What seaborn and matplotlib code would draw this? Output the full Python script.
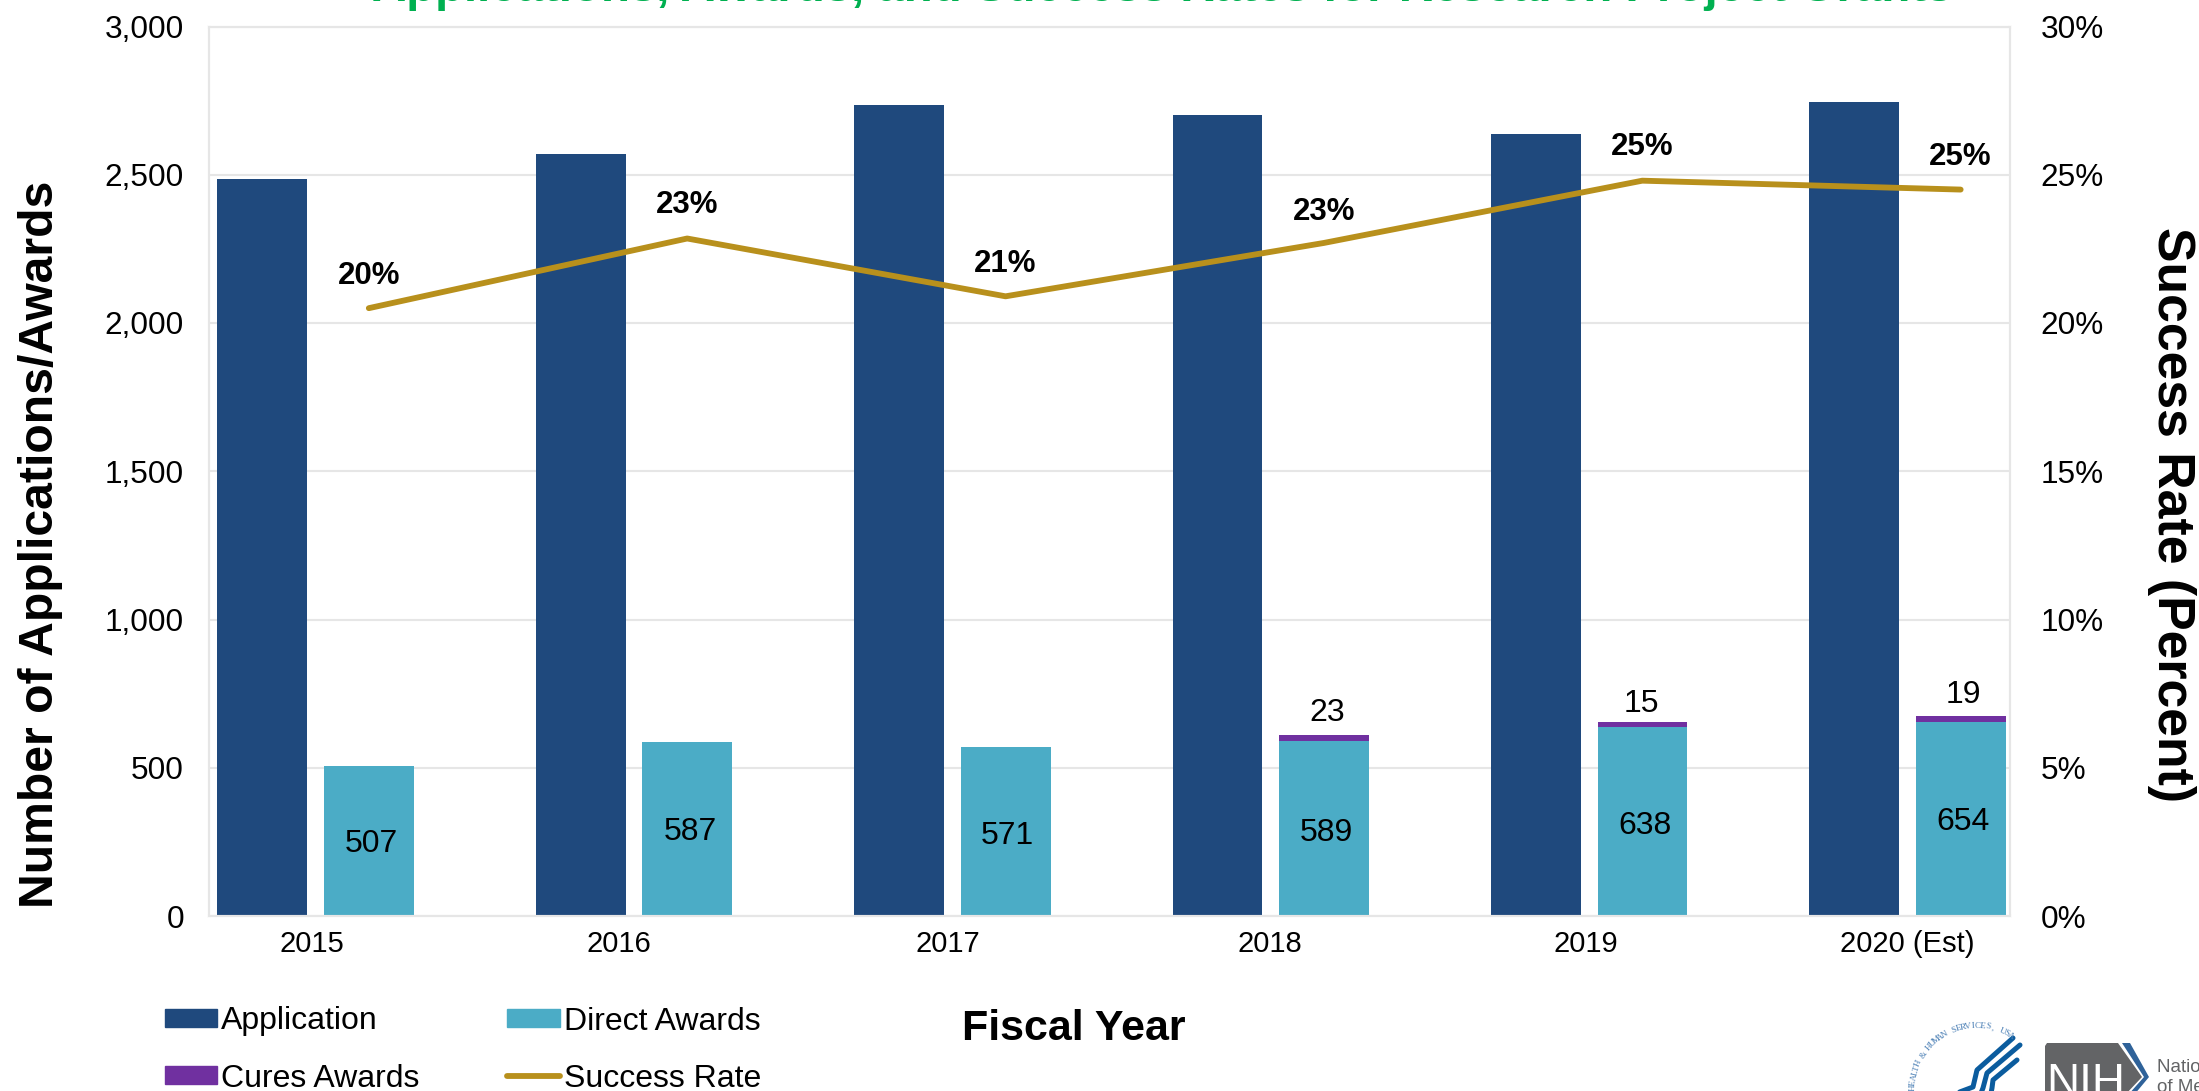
import numpy as np
import pandas as pd
import matplotlib
matplotlib.use('Agg')
import matplotlib.pyplot as plt
import seaborn as sns
from matplotlib.lines import Line2D
from matplotlib.patches import Patch, Polygon

# values
years = ['2015', '2016', '2017', '2018', '2019', '2020 (Est)']
applications = [2484, 2569, 2735, 2702, 2636, 2745]
direct_awards = [507, 587, 571, 589, 638, 654]
cures_awards = [0, 0, 0, 23, 15, 19]
success_rate = [20.5, 22.85, 20.9, 22.7, 24.8, 24.5]
rate_labels = ['20%', '23%', '21%', '23%', '25%', '25%']

NAVY = '#1f497d'
TEAL = '#4bacc6'
PURPLE = '#7030a0'
GOLD = '#b8901c'
GREEN = '#00b050'
GRID = '#e6e6e6'

sns.set_theme(style='white')
plt.rcParams['font.family'] = ['Liberation Sans', 'DejaVu Sans']

W, H = 2199, 1091
fig = plt.figure(figsize=(W / 100, H / 100), dpi=100)
left, right, top, bottom = 209, 2010, 26.5, 916
ax = fig.add_axes([left / W, 1 - bottom / H, (right - left) / W, (bottom - top) / H])

totals = [d + c for d, c in zip(direct_awards, cures_awards)]
series = ['Application'] * 6 + ['Direct Awards'] * 6
bars = pd.DataFrame({'year': years * 2, 'series': series, 'value': applications + direct_awards})
stack = pd.DataFrame({'year': years * 2, 'series': series, 'value': applications + totals})

bar_args = dict(x='year', y='value', hue='series', order=years,
                hue_order=['Application', 'Direct Awards'],
                width=0.67, gap=0.158, legend=False, saturation=1, ax=ax, zorder=2,
                edgecolor='none', linewidth=0)
sns.barplot(data=stack, palette=[NAVY, PURPLE], **bar_args)
sns.barplot(data=bars, palette=[NAVY, TEAL], **bar_args)

ax.set_xlim(-0.335, 5.322)
ax.set_ylim(0, 3000)
ax.set_yticks(range(0, 3001, 500))
ax.set_yticklabels([f'{v:,}' for v in range(0, 3001, 500)])
ax.grid(axis='y', color=GRID, lw=1.5)
ax.set_axisbelow(True)
ax.tick_params(axis='y', length=0, pad=18, labelsize=22.7, labelcolor='black')

tick_nudge = [-0.013, -0.048, -0.013, -0.004, -0.009, 0]
ax.set_xticks(np.arange(6) + tick_nudge)
ax.set_xticklabels(years)
ax.tick_params(axis='x', length=0, pad=10, labelsize=21, labelcolor='black')
ax.set_xlabel('')
ax.set_ylabel('Number of Applications/Awards', fontsize=34.7, fontweight='bold', color='black')
ax.yaxis.set_label_coords(-0.0812, 0.418)

teal_x = np.arange(6) + 0.167

rate_ax = ax.twinx()
sns.lineplot(x=teal_x, y=success_rate, color=GOLD, lw=4.2, ax=rate_ax, zorder=5,
             solid_capstyle='round')
rate_ax.set_xlim(ax.get_xlim())
rate_ax.set_ylim(0, 30)
rate_ax.set_yticks(range(0, 31, 5))
rate_ax.set_yticklabels([f'{v}%' for v in range(0, 31, 5)])
rate_ax.tick_params(axis='y', length=0, pad=22, labelsize=22.7, labelcolor='black')
rate_ax.set_ylabel('Success Rate (Percent)', fontsize=37.3, fontweight='bold', color='black',
                   rotation=270, va='center')
rate_ax.yaxis.set_label_coords(1.0895, 0.451)

for a in (ax, rate_ax):
    for s in a.spines.values():
        s.set_color(GRID)
        s.set_linewidth(1.5)
rate_ax.grid(False)

# data labels: nudges in points from the anchor, as placed by hand in the source
rate_dy = [23, 24, 23, 22, 24, 23.5]
for x, y, lab, dy in zip(teal_x, success_rate, rate_labels, rate_dy):
    rate_ax.annotate(lab, (x, y), xytext=(0, dy), textcoords='offset points', ha='center',
                     va='center', fontsize=22.5, fontweight='bold', color='black', zorder=6)

direct_dx = [2, 2, 1, 2, 2, 2]
direct_dy = [51.5, 60.5, 57.5, 59.5, 64.5, 67.5]
for x, v, dx, dy in zip(teal_x, direct_awards, direct_dx, direct_dy):
    ax.annotate(str(v), (x, 0), xytext=(dx, dy), textcoords='offset points', ha='center',
                va='center', fontsize=23, color='black', zorder=6)

cures_dx = [0, 0, 0, 2, -1, 2]
cures_dy = [0, 0, 0, 146, 153, 159]
for x, v, dx, dy in zip(teal_x, cures_awards, cures_dx, cures_dy):
    if v:
        ax.annotate(str(v), (x, 0), xytext=(dx, dy), textcoords='offset points', ha='center',
                    va='center', fontsize=23, color='black', zorder=6)

handles = [
    Patch(color=NAVY, label='Application'),
    Patch(color=PURPLE, label='Cures Awards'),
    Patch(color=TEAL, label='Direct Awards'),
    Line2D([0], [0], color=GOLD, lw=4.2, solid_capstyle='round', label='Success Rate'),
]
fig.legend(handles=handles, ncol=2, loc='upper left', bbox_to_anchor=(165 / W, 1 - 1006.5 / H),
           bbox_transform=fig.transFigure, frameon=False, fontsize=23, handlelength=1.64,
           handleheight=0.5, handletextpad=0.12, columnspacing=2.75, labelspacing=0.85,
           borderpad=0, borderaxespad=0, labelcolor='black')

# overlay in image pixels for the title, x title and logos, all cut by the image edge
over = fig.add_axes([0, 0, 1, 1], zorder=10)
over.set_xlim(0, W)
over.set_ylim(H, 0)
over.axis('off')
over.patch.set_alpha(0)

over.text(1162, 1, 'Applications, Awards, and Success Rates for Research Project Grants',
          ha='center', va='baseline', fontsize=34.1, fontweight='bold', color=GREEN)
over.text(1074, 1029, 'Fiscal Year', ha='center', va='center', fontsize=31,
          fontweight='bold', color='black')

SEAL = '#0b5c9e'
swooshes = [
    ([2013, 1977, 1973, 1957], [1038, 1070, 1087, 1093]),
    ([2020, 1987, 1983, 1981], [1045, 1073, 1088, 1093]),
    ([2017, 1993, 1992, 1991], [1060, 1080, 1088, 1093]),
]
for xs, ys in swooshes:
    over.plot(xs, ys, color=SEAL, lw=3.6, solid_capstyle='round')

seal_text = 'HEALTH & HUMAN SERVICES, USA'
angles = np.linspace(178, 58, len(seal_text))
for ch, ang in zip(seal_text, angles):
    px = 1977 + 64 * np.cos(np.radians(ang))
    py = 1090 - 64 * np.sin(np.radians(ang))
    over.text(px, py, ch, fontsize=6.5, color='#4a7fb5', family='Liberation Serif',
              rotation=ang - 90, ha='center', va='center')

over.add_patch(Polygon([(2047, 1043), (2118, 1043), (2142, 1077), (2125, 1095), (2045, 1095), (2045, 1046)],
                       closed=True, color='#636466', lw=0))
over.add_patch(Polygon([(2122, 1043), (2130, 1043), (2149, 1077), (2134, 1095), (2128, 1095), (2144, 1077)],
                       closed=True, color='#2f6299', lw=0))
over.text(2086, 1096, 'NIH', ha='center', va='baseline', fontsize=33, color='white')
over.text(2157, 1067, 'National Institute', ha='left', va='center', fontsize=13.5, color='#636466')
over.text(2157, 1088, 'of Mental Health', ha='left', va='center', fontsize=13.5, color='#636466')

fig.savefig('out.png', dpi=100)
